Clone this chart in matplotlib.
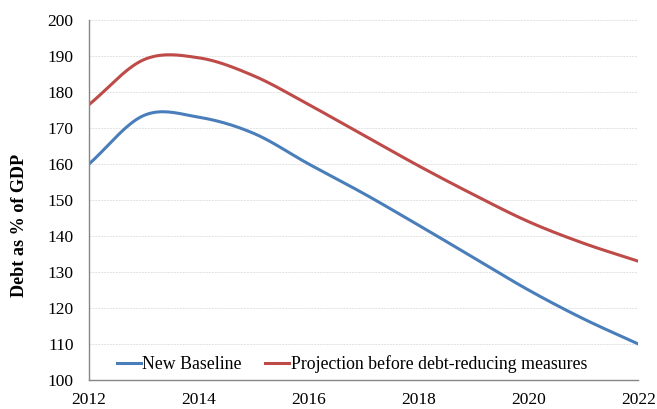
import numpy as np
import matplotlib
matplotlib.use("Agg")
import matplotlib.pyplot as plt

years = [2012, 2013, 2014, 2015, 2016, 2017, 2018, 2019, 2020, 2021, 2022]
new_baseline = [160.0, 173.5, 173.0, 168.5, 160.0, 151.8, 143.0, 134.0, 125.0, 117.0, 110.0]
before_measures = [176.5, 189.0, 189.5, 184.5, 176.5, 168.0, 159.5, 151.5, 144.0, 138.0, 133.0]

plt.rcParams["font.family"] = "Liberation Serif"
plt.rcParams["font.size"] = 12.5


def smooth(x, y, n=20):
    # Catmull-Rom style smoothing, like a spreadsheet "smoothed line"
    x = np.asarray(x, float)
    y = np.asarray(y, float)
    px = np.concatenate([[2 * x[0] - x[1]], x, [2 * x[-1] - x[-2]]])
    py = np.concatenate([[2 * y[0] - y[1]], y, [2 * y[-1] - y[-2]]])
    xs, ys = [], []
    t = np.linspace(0, 1, n, endpoint=False)
    for i in range(1, len(px) - 2):
        for arr, out in ((px, xs), (py, ys)):
            p0, p1, p2, p3 = arr[i - 1], arr[i], arr[i + 1], arr[i + 2]
            out.extend(0.5 * (2 * p1 + (-p0 + p2) * t
                              + (2 * p0 - 5 * p1 + 4 * p2 - p3) * t ** 2
                              + (-p0 + 3 * p1 - 3 * p2 + p3) * t ** 3))
    xs.append(x[-1])
    ys.append(y[-1])
    return np.array(xs), np.array(ys)


fig = plt.figure(figsize=(6.57, 4.09), dpi=100)
ax = fig.add_axes([0.1355, 0.071, 0.836, 0.880])

sx, sy = smooth(years, new_baseline)
ax.plot(sx, sy, color="#4A7EBB", linewidth=2.2, label="New Baseline")
sx, sy = smooth(years, before_measures)
ax.plot(sx, sy, color="#BE4B48", linewidth=2.2,
        label="Projection before debt-reducing measures")

ax.set_xlim(2012, 2022)
ax.set_ylim(100, 200)
ax.set_xticks(range(2012, 2023, 2))
ax.set_yticks(range(100, 201, 10))

ax.grid(axis="y", color="#E3E3E3", linestyle=(0, (2, 1)), linewidth=0.7)
ax.set_axisbelow(True)

for side in ["top", "right"]:
    ax.spines[side].set_visible(False)
for side in ["left", "bottom"]:
    ax.spines[side].set_color("#868686")
    ax.spines[side].set_linewidth(1.0)

ax.tick_params(axis="both", length=0, labelsize=12.5)
ax.tick_params(axis="y", pad=11)
ax.tick_params(axis="x", pad=9)

ax.set_ylabel("Debt as % of GDP", fontsize=13.1, fontweight="bold")
ax.yaxis.set_label_coords(-0.112, 0.43)

ax.legend(loc="lower left", bbox_to_anchor=(0.021, -0.025), ncol=2,
          frameon=False, fontsize=12.8, handlelength=1.35, handletextpad=0.1,
          columnspacing=1.3)

fig.savefig("out.png", dpi=100)
